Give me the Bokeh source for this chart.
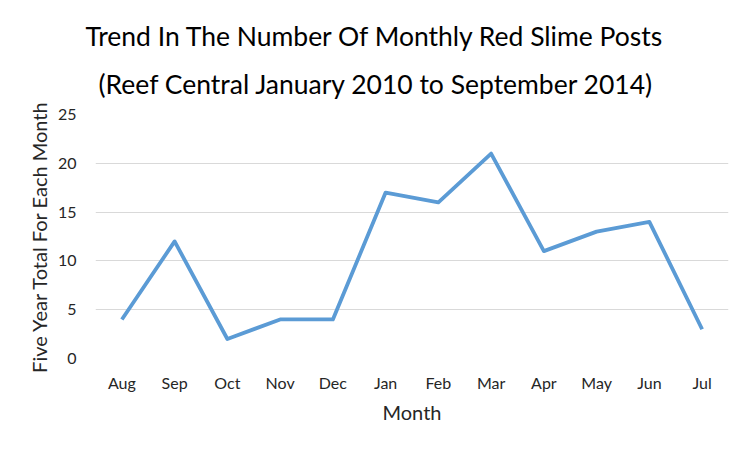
from bokeh.plotting import figure
from bokeh.models import FactorRange, Range1d, FixedTicker, Title
from bokeh.embed import file_html
from bokeh.resources import INLINE

months = ["Aug", "Sep", "Oct", "Nov", "Dec", "Jan", "Feb", "Mar", "Apr", "May", "Jun", "Jul"]
posts = [4, 12, 2, 4, 4, 17, 16, 21, 11, 13, 14, 3]
y_ticks = [0, 5, 10, 15, 20, 25]
title_lines = ["Trend In The Number Of Monthly Red Slime Posts",
               "(Reef Central January 2010 to September 2014)"]

FONT = "Lato"
W, H = 744, 444

p = figure(width=W, height=H, output_backend="svg", toolbar_location=None,
           x_range=FactorRange(factors=months, range_padding=0),
           y_range=Range1d(0, 25),
           min_border_left=95, min_border_right=16, min_border_top=114, min_border_bottom=86)

# two title lines, line 2 closest to the frame
for text, off, stand in ((title_lines[1], 3, 29), (title_lines[0], -10, 0)):
    p.add_layout(Title(text=text, align="left", offset=off, standoff=stand,
                       text_font=FONT, text_font_size="26.5px", text_font_style="normal",
                       text_color="#000000"), "above")

p.line(x=months, y=posts, line_color="#5B9BD5", line_width=3.8, line_join="round")

p.outline_line_color = None
p.xgrid.grid_line_color = None
p.ygrid.grid_line_color = "#D9D9D9"
p.ygrid.grid_line_width = 1
p.yaxis.ticker = FixedTicker(ticks=y_ticks)

for ax in (p.xaxis[0], p.yaxis[0]):
    ax.axis_line_color = None
    ax.major_tick_line_color = None
    ax.minor_tick_line_color = None
    ax.major_label_text_font = FONT
    ax.major_label_text_font_size = "16px"
    ax.major_label_text_color = "#262626"
    ax.axis_label_text_font = FONT
    ax.axis_label_text_font_style = "normal"
    ax.axis_label_text_color = "#262626"

p.xaxis.major_label_standoff = 8
p.yaxis.major_label_standoff = 13
p.xaxis.axis_label = "Month"
p.xaxis.axis_label_text_font_size = "20px"
p.xaxis.axis_label_standoff = 5
p.yaxis.axis_label = "Five Year Total For Each Month"
p.yaxis.axis_label_text_font_size = "20px"
p.yaxis.axis_label_standoff = 4

open("out.html", "w").write(file_html(p, INLINE))
